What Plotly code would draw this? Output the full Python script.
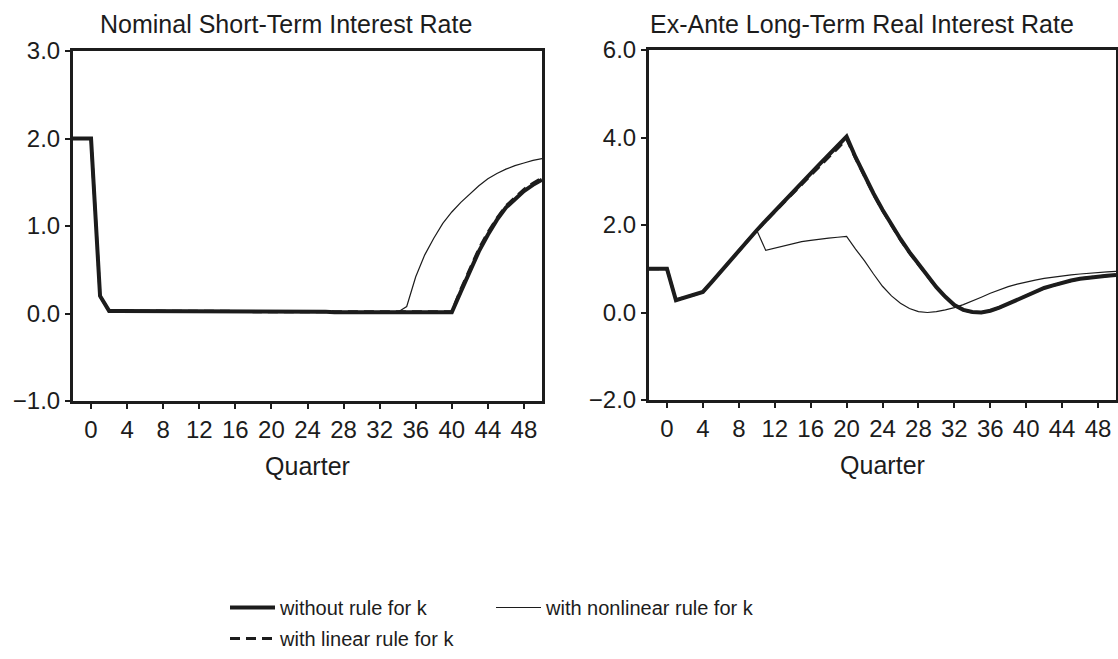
import plotly.graph_objects as go

W, H = 1118, 659


def px(x):
    return x / W


def py(y):
    return 1 - y / H


quarters = list(range(-2, 51))

# Nominal short-term interest rate
short_without = [2.0, 2.0, 2.0, 0.20, 0.03, 0.03, 0.03, 0.03, 0.03, 0.03,
                 0.03, 0.03, 0.03, 0.03, 0.03, 0.025, 0.025, 0.025, 0.025, 0.025,
                 0.02, 0.02, 0.02, 0.02, 0.02, 0.02, 0.02, 0.02, 0.02, 0.015,
                 0.015, 0.015, 0.015, 0.015, 0.015, 0.015, 0.015, 0.015, 0.015, 0.015,
                 0.015, 0.015, 0.015, 0.25, 0.49, 0.71, 0.90, 1.07, 1.21, 1.31,
                 1.40, 1.47, 1.53]
short_linear = [2.0, 2.0, 2.0, 0.20, 0.03, 0.03, 0.03, 0.03, 0.03, 0.03,
                0.03, 0.03, 0.03, 0.03, 0.03, 0.025, 0.025, 0.025, 0.025, 0.025,
                0.02, 0.02, 0.02, 0.02, 0.02, 0.02, 0.02, 0.02, 0.02, 0.015,
                0.015, 0.015, 0.015, 0.015, 0.015, 0.015, 0.015, 0.015, 0.015, 0.015,
                0.015, 0.015, 0.02, 0.28, 0.52, 0.74, 0.93, 1.09, 1.23, 1.33,
                1.42, 1.49, 1.55]
short_nonlinear = [2.0, 2.0, 2.0, 0.20, 0.03, 0.03, 0.03, 0.03, 0.03, 0.03,
                   0.03, 0.03, 0.03, 0.03, 0.03, 0.025, 0.025, 0.025, 0.025, 0.025,
                   0.02, 0.02, 0.02, 0.02, 0.02, 0.02, 0.02, 0.02, 0.02, 0.015,
                   0.015, 0.015, 0.015, 0.015, 0.015, 0.015, 0.015, 0.08, 0.42, 0.67,
                   0.86, 1.03, 1.16, 1.27, 1.37, 1.46, 1.54, 1.60, 1.65, 1.69,
                   1.72, 1.75, 1.77]

# Ex-ante long-term real interest rate
long_without = [1.0, 1.0, 1.0, 0.28, 0.35, 0.40, 0.47, 0.70, 0.94, 1.17,
                1.41, 1.64, 1.88, 2.10, 2.32, 2.54, 2.76, 2.97, 3.18, 3.39,
                3.60, 3.80, 4.02, 3.55, 3.12, 2.72, 2.35, 2.00, 1.68, 1.38,
                1.11, 0.85, 0.58, 0.36, 0.17, 0.06, 0.01, 0.00, 0.04, 0.11,
                0.20, 0.30, 0.39, 0.48, 0.56, 0.62, 0.68, 0.73, 0.77, 0.80,
                0.82, 0.84, 0.86]
long_linear = [1.0, 1.0, 1.0, 0.28, 0.35, 0.40, 0.47, 0.70, 0.94, 1.17,
               1.41, 1.64, 1.88, 2.09, 2.30, 2.52, 2.73, 2.94, 3.15, 3.35,
               3.55, 3.75, 3.96, 3.52, 3.10, 2.70, 2.33, 1.98, 1.66, 1.36,
               1.09, 0.83, 0.57, 0.35, 0.17, 0.06, 0.01, 0.00, 0.04, 0.11,
               0.20, 0.30, 0.39, 0.48, 0.56, 0.62, 0.68, 0.73, 0.77, 0.80,
               0.82, 0.84, 0.86]
long_nonlinear = [1.0, 1.0, 1.0, 0.28, 0.35, 0.40, 0.47, 0.70, 0.94, 1.17,
                  1.41, 1.64, 1.88, 1.42, 1.47, 1.53, 1.58, 1.62, 1.65, 1.68,
                  1.70, 1.72, 1.74, 1.45, 1.18, 0.88, 0.60, 0.38, 0.21, 0.09,
                  0.02, 0.00, 0.02, 0.06, 0.11, 0.18, 0.26, 0.35, 0.44, 0.52,
                  0.59, 0.65, 0.70, 0.74, 0.78, 0.81, 0.84, 0.86, 0.88, 0.90,
                  0.92, 0.93, 0.94]

x_ticks = list(range(0, 49, 4))
left_yticks = [-1, 0, 1, 2, 3]
right_yticks = [-2, 0, 2, 4, 6]

names = ["without rule for k", "with linear rule for k", "with nonlinear rule for k"]

INK = "#1c1c1c"
FONT = "Liberation Sans, Arial, sans-serif"

fig = go.Figure()


def add_panel(xa, ya, y_without, y_linear, y_nonlinear, show):
    fig.add_trace(go.Scatter(x=quarters, y=y_nonlinear, mode="lines", name=names[2],
                             line=dict(color=INK, width=1.2), xaxis=xa, yaxis=ya,
                             showlegend=show, legend="legend2", legendgroup="c"))
    fig.add_trace(go.Scatter(x=quarters, y=y_linear, mode="lines", name=names[1],
                             line=dict(color=INK, width=2.8, dash="10px,6px"), xaxis=xa, yaxis=ya,
                             showlegend=show, legend="legend", legendrank=2, legendgroup="b"))
    fig.add_trace(go.Scatter(x=quarters, y=y_without, mode="lines", name=names[0],
                             line=dict(color=INK, width=4), xaxis=xa, yaxis=ya,
                             showlegend=show, legend="legend", legendrank=1, legendgroup="a"))


add_panel("x", "y", short_without, short_linear, short_nonlinear, True)
add_panel("x2", "y2", long_without, long_linear, long_nonlinear, False)

axis_common = dict(showline=True, linecolor=INK, linewidth=3, mirror=True,
                   showgrid=False, zeroline=False, ticks="outside", ticklen=5,
                   tickwidth=1.5, tickcolor=INK, automargin=False,
                   tickfont=dict(family=FONT, size=24, color=INK))

xtitle = dict(text="Quarter", font=dict(family=FONT, size=25, color=INK), standoff=16)

fig.update_layout(
    width=W, height=H,
    margin=dict(l=0, r=0, t=0, b=0, autoexpand=False),
    paper_bgcolor="white", plot_bgcolor="white",
    font=dict(family=FONT, size=22, color=INK),
    xaxis=dict(domain=[px(73), px(542)], range=[-2, 50], tickvals=x_ticks,
               title=xtitle, anchor="y", **axis_common),
    yaxis=dict(domain=[py(401), py(51)], range=[-1, 3], tickvals=left_yticks,
               tickformat=".1f", anchor="x", **axis_common),
    xaxis2=dict(domain=[px(649), px(1116)], range=[-2, 50], tickvals=x_ticks,
                title=xtitle, anchor="y2", **axis_common),
    yaxis2=dict(domain=[py(400), py(50)], range=[-2, 6], tickvals=right_yticks,
                tickformat=".1f", anchor="x2", **axis_common),
    legend=dict(x=px(225), y=py(588), xanchor="left", yanchor="top",
                orientation="v", font=dict(family=FONT, size=20, color=INK),
                itemwidth=45, bgcolor="rgba(0,0,0,0)", tracegroupgap=2,
                traceorder="grouped"),
    legend2=dict(x=px(491), y=py(588), xanchor="left", yanchor="top",
                 orientation="v", font=dict(family=FONT, size=20, color=INK),
                 itemwidth=45, bgcolor="rgba(0,0,0,0)"),
    annotations=[
        dict(text="Nominal Short-Term Interest Rate", x=px(286), y=py(40),
             xref="paper", yref="paper", xanchor="center", yanchor="bottom",
             showarrow=False, font=dict(family=FONT, size=25, color=INK)),
        dict(text="Ex-Ante Long-Term Real Interest Rate", x=px(862), y=py(40),
             xref="paper", yref="paper", xanchor="center", yanchor="bottom",
             showarrow=False, font=dict(family=FONT, size=25, color=INK)),
    ],
)

fig.write_html(
    "out.html",
    config={"displayModeBar": False},
    post_script="document.body.style.margin='0';document.body.style.overflow='hidden';",
)
